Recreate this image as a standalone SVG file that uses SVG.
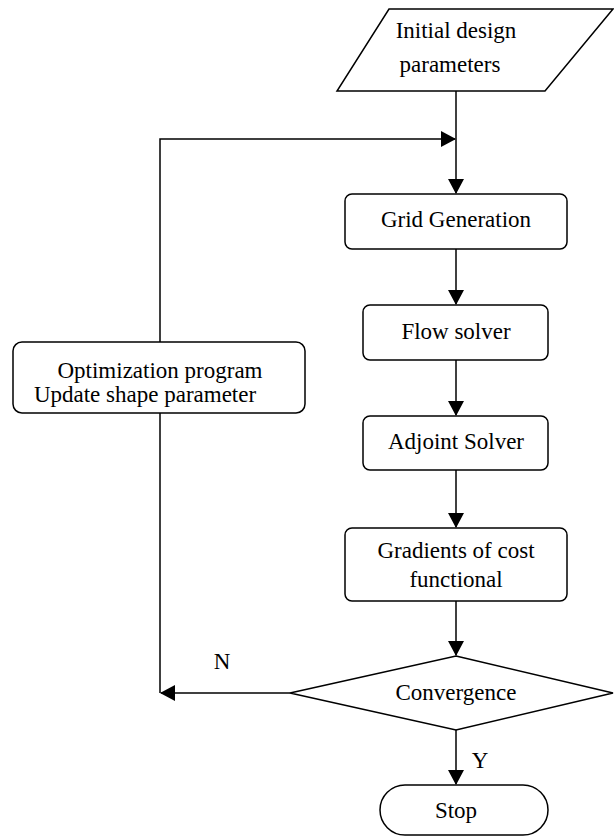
<svg xmlns="http://www.w3.org/2000/svg" width="614" height="840" viewBox="0 0 614 840">
<style>
.s{fill:#fff;stroke:#000;stroke-width:1.5}
.c{fill:none;stroke:#000;stroke-width:1.5}
text{font-family:"Liberation Serif","Times New Roman",serif;font-size:23px;fill:#000;text-anchor:middle}
</style>
<defs>
<marker id="a" markerWidth="15" markerHeight="16" refX="14" refY="8" orient="auto" markerUnits="userSpaceOnUse">
<path d="M0,0 L15,8 L0,16 Z" fill="#000"/>
</marker>
</defs>
<g id="connectors">
<path class="c" d="M456,91 V193" marker-end="url(#a)"/>
<path class="c" d="M160,342 V139 H455" marker-end="url(#a)"/>
<path class="c" d="M456,249 V304" marker-end="url(#a)"/>
<path class="c" d="M456,360 V415" marker-end="url(#a)"/>
<path class="c" d="M456,470 V527" marker-end="url(#a)"/>
<path class="c" d="M456,601 V655" marker-end="url(#a)"/>
<path class="c" d="M290,693 H161" marker-end="url(#a)"/>
<path class="c" d="M160,413 V693"/>
<path class="c" d="M456,730 V784" marker-end="url(#a)"/>
<text x="222" y="669">N</text>
<text x="480" y="768">Y</text>
</g>
<g id="initial">
<polygon class="s" points="389,9 613,9 545,91 337,91"/>
<text x="456" y="38">Initial design</text>
<text x="450" y="72">parameters</text>
</g>
<g id="grid">
<rect class="s" x="345" y="194" width="222" height="55" rx="7"/>
<text x="456" y="227">Grid Generation</text>
</g>
<g id="flow">
<rect class="s" x="363" y="305" width="185" height="55" rx="7"/>
<text x="456" y="339">Flow solver</text>
</g>
<g id="adjoint">
<rect class="s" x="363" y="416" width="185" height="54" rx="7"/>
<text x="456" y="449">Adjoint Solver</text>
</g>
<g id="gradients">
<rect class="s" x="345" y="528" width="222" height="73" rx="7"/>
<text x="456" y="558">Gradients of cost</text>
<text x="456" y="587">functional</text>
</g>
<g id="optimization">
<rect class="s" x="13" y="342" width="292" height="71" rx="9"/>
<text x="160" y="378">Optimization program</text>
<text x="145" y="402">Update shape parameter</text>
</g>
<g id="convergence">
<polygon class="s" points="456,656 613,693 456,730 290,693"/>
<text x="456" y="700">Convergence</text>
</g>
<g id="stop">
<rect class="s" x="380" y="785" width="168" height="50" rx="25"/>
<text x="456" y="818">Stop</text>
</g>
</svg>
